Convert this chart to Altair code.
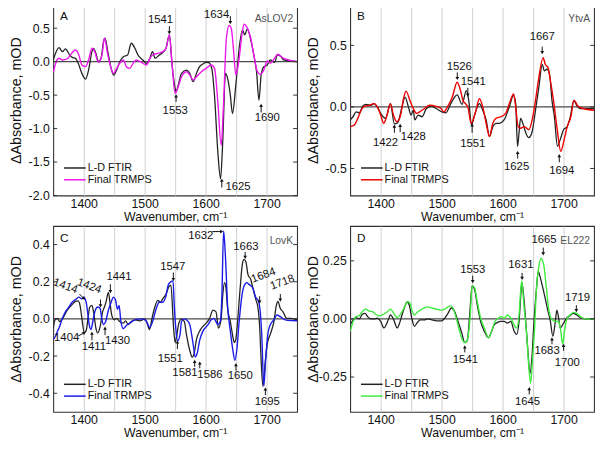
import altair as alt
import pandas as pd

FONT = "Liberation Sans, Arial, sans-serif"
SERIES = ["L-D FTIR", "Final TRMPS"]
X_DOMAIN = [1350, 1750]
X_GRID = [1400, 1450, 1500, 1550, 1600, 1650, 1700]

# ---------------- Panel A (AsLOV2) ----------------
A_ftir = [(1350, 0.025), (1359.5, 0.21), (1365, 0.15), (1370, 0.19), (1377, 0.10), (1382, 0.06), (1386.5, 0.05),
          (1391, -0.025), (1397, -0.175), (1403, -0.26), (1408, -0.125), (1413.5, 0.15), (1416, 0.20), (1420, 0.125),
          (1424, 0.0), (1428.5, 0.05), (1432.5, 0.30), (1435, 0.35), (1439.5, 0.15), (1445, -0.10), (1449, -0.20),
          (1454, -0.125), (1459, 0.0), (1465, 0.075), (1472, 0.10), (1478, 0.275), (1484, 0.20), (1489, 0.10),
          (1497, 0.025), (1503, -0.025), (1508, 0.04), (1513, 0.15), (1517, 0.05), (1524, 0.10), (1530, 0.14),
          (1535, 0.20), (1540.5, 0.40), (1545, -0.05), (1549, -0.35), (1551.5, -0.45), (1555, -0.35), (1560.5, -0.175),
          (1568.5, -0.125), (1574, -0.175), (1579.5, -0.30), (1585, -0.175), (1590, -0.075), (1595.5, -0.035),
          (1601, -0.01), (1605, -0.015), (1610, -0.10), (1614.5, -0.50), (1620, -1.35), (1624.5, -1.75), (1628, -1.20),
          (1632.5, -0.175), (1636, -0.25), (1640.5, -0.50), (1644, -0.775), (1649.5, -0.35), (1655, 0.20),
          (1660.5, 0.475), (1664, 0.40), (1668.5, 0.49), (1674, 0.325), (1679, 0.10), (1683.5, -0.15), (1687.5, -0.575),
          (1691, -0.20), (1695.5, -0.075), (1701, -0.05), (1706, 0.025), (1713, -0.01), (1718, 0.10), (1723.5, 0.075),
          (1728, 0.025), (1739, 0.01), (1750, 0.0)]
A_trmps = [(1350, -0.16), (1355, 0.0), (1359.5, 0.05), (1365, 0.025), (1373, 0.04), (1378, 0.10), (1386.5, 0.175),
           (1392, 0.10), (1397, -0.05), (1403, -0.075), (1408, 0.025), (1413.5, 0.20), (1418, 0.15), (1424, -0.01),
           (1430, 0.10), (1434, 0.35), (1439.5, 0.10), (1445, -0.10), (1449, -0.175), (1454, -0.10), (1459, -0.025),
           (1465, 0.025), (1470, -0.075), (1475.5, -0.10), (1481, -0.025), (1486, 0.025), (1494.5, -0.01),
           (1503, -0.05), (1508, 0.04), (1513, 0.10), (1521.5, 0.125), (1530, 0.15), (1535, 0.20), (1540.5, 0.40),
           (1545, -0.05), (1550, -0.475), (1555, -0.375), (1560.5, -0.225), (1568.5, -0.15), (1574, -0.20),
           (1579.5, -0.275), (1585, -0.225), (1593, -0.15), (1601, -0.10), (1609, -0.05), (1614.5, -0.10),
           (1620, -0.60), (1625.5, -1.25), (1629.5, -0.60), (1634, 0.35), (1638.5, 0.54), (1642, 0.50), (1646, 0.15),
           (1649.5, -0.20), (1655, 0.05), (1659.5, 0.40), (1663, 0.56), (1668.5, 0.50), (1674, 0.35), (1679, 0.10),
           (1685, -0.15), (1690, -0.19), (1695.5, -0.125), (1701, 0.01), (1706, -0.025), (1713, 0.05), (1718, 0.11),
           (1728, 0.05), (1739, 0.02), (1750, 0.0)]
A_yticks = [-2.0, -1.5, -1.0, -0.5, 0.0, 0.5]
# label, label x, label y, label angle, tail x, tail y, tip x, tip y, head angle
A_ann = [("1541", 1526, 0.62, 0, 1540.5, 0.53, 1540.5, 0.44, 180),
         ("1553", 1550, -0.74, 0, 1551.5, -0.60, 1551.5, -0.52, 0),
         ("1634", 1618, 0.69, 0, 1640.5, 0.68, 1640.5, 0.59, 180),
         ("1625", 1653, -1.87, 0, 1626.5, -1.88, 1626.5, -1.78, 0),
         ("1690", 1701, -0.85, 0, 1691, -0.76, 1691, -0.66, 0)]

# ---------------- Panel B (YtvA) ----------------
B_ftir = [(1350, -0.106), (1354.5, -0.08), (1360, -0.04), (1365, -0.048), (1370.5, 0.005), (1376, 0.02), (1384, 0.013),
          (1389, 0.027), (1394.5, 0.0), (1400, -0.053), (1408, -0.093), (1416, 0.027), (1422.5, -0.138),
          (1428, -0.128), (1435, 0.0), (1440, 0.08), (1445.5, 0.0), (1450, -0.066), (1453.5, -0.027), (1456, -0.106),
          (1461.5, -0.066), (1468, -0.08), (1475, -0.013), (1483, 0.005), (1491, -0.013), (1500.5, -0.04),
          (1507, -0.048), (1515, 0.027), (1525.5, 0.098), (1533.5, 0.021), (1540.5, 0.133), (1544.5, 0.053),
          (1549, -0.146), (1554, -0.066), (1562, 0.027), (1567.5, -0.027), (1573, -0.106), (1578.5, -0.24),
          (1584, -0.16), (1589, -0.133), (1594.5, -0.133), (1602.5, -0.106), (1611, 0.0), (1618, 0.093),
          (1621.5, 0.027), (1624.5, -0.32), (1627, -0.21), (1629.5, -0.093), (1634, -0.146), (1638, -0.21),
          (1643, -0.25), (1648.5, -0.2), (1654, -0.027), (1659.5, 0.16), (1665, 0.346), (1668.5, 0.293), (1673, 0.306),
          (1677, 0.266), (1681, 0.053), (1685, -0.08), (1690, -0.32), (1694.5, -0.266), (1700, -0.186), (1706, -0.16),
          (1710.5, -0.093), (1717, 0.053), (1721.5, 0.013), (1727, -0.013), (1735, -0.013), (1750, -0.013)]
B_trmps = [(1350, -0.16), (1357, -0.146), (1362.5, -0.093), (1368, -0.027), (1373, 0.005), (1381, 0.013), (1389, 0.027),
           (1394.5, 0.0), (1400, -0.066), (1405, -0.133), (1410.5, -0.066), (1416, 0.027), (1421, -0.066),
           (1426.5, -0.12), (1432, -0.08), (1437.5, 0.066), (1441.5, 0.128), (1448, 0.053), (1453.5, -0.013),
           (1459, -0.053), (1464, -0.04), (1472, -0.013), (1480, 0.013), (1491, 0.005), (1499, -0.013), (1504, -0.04),
           (1509.5, 0.0), (1517.5, 0.08), (1525.5, 0.2), (1531, 0.133), (1535, 0.053), (1539, 0.027), (1543, 0.0),
           (1548.5, -0.133), (1555, -0.053), (1562, 0.066), (1567.5, 0.0), (1573, -0.133), (1578.5, -0.24),
           (1584, -0.133), (1589, -0.093), (1597, -0.08), (1605, -0.053), (1612, 0.04), (1618, 0.106), (1621.5, 0.0),
           (1625.5, -0.16), (1629.5, -0.173), (1636, -0.16), (1643, -0.186), (1648.5, -0.106), (1654, 0.053),
           (1659.5, 0.24), (1666.5, 0.4), (1670, 0.346), (1674.5, 0.32), (1678, 0.226), (1683.5, 0.053), (1689, -0.16),
           (1695.5, -0.36), (1701, -0.266), (1706, -0.16), (1712, -0.08), (1717, 0.053), (1724, 0.005),
           (1732, -0.013), (1750, -0.027)]
B_yticks = [-0.5, 0.0, 0.5]
B_ann = [("1526", 1529, 0.32, 0, 1525.7, 0.28, 1525.7, 0.235, 180),
         ("1541", 1552, 0.20, 0, 1543, 0.155, 1543, 0.10, 180),
         ("1422", 1408, -0.29, 0, 1422.5, -0.21, 1422.5, -0.16, 0),
         ("1428", 1453.5, -0.245, 0, 1432, -0.205, 1432, -0.155, 0),
         ("1551", 1551, -0.30, 0, 1550, -0.21, 1550, -0.15, 0),
         ("1625", 1623, -0.49, 0, 1624.7, -0.42, 1624.7, -0.375, 0),
         ("1667", 1665, 0.565, 0, 1665, 0.49, 1665, 0.445, 180),
         ("1694", 1697, -0.52, 0, 1693, -0.45, 1693, -0.40, 0)]

# ---------------- Panel C (LovK) ----------------
C_ftir = [(1350, -0.049), (1353, -0.005), (1357, 0.003), (1360.5, -0.014), (1365, 0.0), (1373, 0.047), (1381, 0.077),
          (1386.5, 0.094), (1391, 0.097), (1394.5, 0.064), (1397, 0.003), (1401, -0.075), (1404.5, -0.057),
          (1407, 0.003), (1410, 0.064), (1413.5, 0.073), (1416.5, 0.03), (1420, -0.049), (1423, -0.075),
          (1427, -0.04), (1431, 0.038), (1434, 0.064), (1436.5, 0.09), (1440.5, 0.143), (1443, 0.09), (1446, 0.02),
          (1450, -0.005), (1454, 0.003), (1459, -0.014), (1465, -0.023), (1468.5, -0.01), (1473, -0.031),
          (1478, -0.014), (1485, -0.005), (1492, -0.01), (1500, 0.0), (1504, -0.023), (1508, -0.057), (1512, 0.003),
          (1516, 0.056), (1521.5, 0.1), (1526, 0.09), (1529.5, 0.108), (1535, 0.134), (1540.5, 0.177), (1543, 0.18),
          (1547.5, -0.05), (1550, -0.127), (1552.5, -0.092), (1556, -0.023), (1560.5, 0.0), (1565, -0.014),
          (1568.5, -0.083), (1574, -0.17), (1578, -0.205), (1581, -0.188), (1585, -0.11), (1590, -0.066),
          (1595.5, -0.04), (1601, -0.023), (1606.5, 0.003), (1612, 0.047), (1617, 0.038), (1621, -0.049),
          (1625.5, 0.003), (1628, 0.125), (1631, 0.195), (1633.5, 0.16), (1636, 0.056), (1640.5, -0.014),
          (1644, -0.083), (1647, -0.127), (1649.5, -0.11), (1652, -0.031), (1656.5, 0.16), (1660.5, 0.3), (1663, 0.32),
          (1666, 0.308), (1669.5, 0.238), (1674, 0.212), (1678, 0.16), (1682, 0.108), (1686, 0.056), (1689, -0.066),
          (1691, -0.223), (1694, -0.362), (1698, -0.223), (1701, -0.136), (1706, -0.083), (1712, -0.014),
          (1716, 0.073), (1718.5, 0.094), (1722.5, 0.056), (1727, 0.038), (1733, 0.003), (1739, 0.003),
          (1750, -0.005)]
C_trmps = [(1350, -0.11), (1354, -0.092), (1357, -0.066), (1359.5, -0.049), (1365, 0.003), (1370, 0.038),
           (1375.5, 0.064), (1381, 0.09), (1386.5, 0.104), (1392, 0.117), (1397, 0.108), (1400, 0.117), (1404, 0.09),
           (1407, 0.021), (1409, -0.031), (1412, -0.057), (1415, -0.014), (1419, 0.047), (1423, 0.064), (1427, 0.056),
           (1429.5, 0.003), (1432.5, -0.031), (1436, -0.014), (1440.5, 0.047), (1445, 0.09), (1448.5, 0.117),
           (1452, 0.104), (1455.5, 0.052), (1458, 0.073), (1461, -0.014), (1465, -0.052), (1470, -0.035),
           (1475.5, -0.023), (1484, -0.005), (1494.5, 0.0), (1502.5, -0.01), (1508, -0.045), (1513, -0.014),
           (1519, 0.056), (1524, 0.09), (1529.5, 0.09), (1535, 0.125), (1539, 0.186), (1543, 0.2), (1546.5, 0.205),
           (1548.5, 0.073), (1551, -0.049), (1554, -0.118), (1558, -0.083), (1560.5, -0.014), (1565, 0.0),
           (1568.5, -0.005), (1574, -0.031), (1579.5, -0.136), (1583, -0.205), (1586.5, -0.18), (1590, -0.118),
           (1595.5, -0.066), (1604, -0.031), (1609, -0.005), (1613.5, 0.003), (1617, -0.014), (1620, -0.031),
           (1624, -0.014), (1626.5, 0.108), (1629.5, 0.473), (1632.5, 0.334), (1636, 0.073), (1640.5, -0.066),
           (1644, -0.153), (1648, -0.223), (1651, -0.17), (1655, -0.014), (1659.5, 0.125), (1663, 0.177),
           (1667.5, 0.195), (1671, 0.186), (1677, 0.169), (1682, 0.117), (1686, 0.1), (1689, 0.056), (1692, -0.083),
           (1695.5, -0.362), (1698, -0.24), (1702, -0.083), (1706, -0.031), (1712, -0.005), (1717, 0.021),
           (1722.5, 0.012), (1730.5, -0.005), (1741.5, -0.009), (1750, -0.01)]
C_yticks = [-0.4, -0.2, 0.0, 0.2, 0.4]
C_ann = [("1547", 1546, 0.28, 0, 1547, 0.25, 1547, 0.215, 180),
         ("1441", 1458, 0.226, 0, 1443.7, 0.186, 1443.7, 0.15, 180),
         ("1414", 1370, 0.175, 20, 1393, 0.134, 1400, 0.111, 135),
         ("1424", 1409, 0.175, 20, 1427.5, 0.104, 1427.5, 0.073, 180),
         ("1404", 1372, -0.104, 0, 1391, -0.092, 1400, -0.076, 45),
         ("1411", 1416.7, -0.153, 0, 1413.5, -0.115, 1413.5, -0.08, 0),
         ("1430", 1455.5, -0.118, 0, 1435, -0.087, 1435, -0.052, 0),
         ("1551", 1542, -0.214, 0, 1553.7, -0.162, 1553.7, -0.127, 0),
         ("1581", 1566, -0.292, 0, 1582, -0.257, 1582, -0.231, 0),
         ("1586", 1607, -0.30, 0, 1590.4, -0.266, 1590.4, -0.24, 0),
         ("1632", 1592, 0.447, 0, 1611, 0.47, 1625.5, 0.47, 90),
         ("1663", 1666, 0.386, 0, 1664.8, 0.36, 1664.8, 0.334, 180),
         ("1684", 1695, 0.233, 340, 1688.6, 0.122, 1688.6, 0.094, 180),
         ("1718", 1726, 0.195, 340, 1722.5, 0.134, 1722.5, 0.104, 180),
         ("1650", 1656.7, -0.31, 0, 1649.7, -0.278, 1649.7, -0.249, 0),
         ("1695", 1701, -0.445, 0, 1698, -0.41, 1698, -0.38, 0)]

# ---------------- Panel D (EL222) ----------------
D_ftir = [(1350, -0.025), (1355, -0.004), (1359.5, 0.006), (1365, 0.0), (1370, 0.02), (1374.5, 0.024), (1378.5, 0.01),
          (1384, 0.0), (1389, 0.0), (1394.5, 0.003), (1400, -0.011), (1405.5, -0.039), (1409, -0.025),
          (1413.5, 0.003), (1416, 0.017), (1421.5, -0.004), (1427, -0.039), (1431, -0.018), (1435, 0.017),
          (1439.5, 0.052), (1443, 0.073), (1447, 0.059), (1451, 0.003), (1455.5, -0.032), (1459.5, -0.018),
          (1465, -0.004), (1472, -0.004), (1477, 0.0), (1484, -0.004), (1492, -0.008), (1500, -0.008), (1505, 0.003),
          (1510.5, 0.024), (1516, 0.047), (1521.5, 0.031), (1527, -0.011), (1533, -0.06), (1538, -0.102),
          (1542, -0.095), (1546, 0.017), (1550, 0.142), (1554, 0.128), (1558.5, 0.059), (1564, -0.011),
          (1570, -0.053), (1577, -0.081), (1581, -0.06), (1586.5, -0.025), (1592, -0.015), (1597, -0.011),
          (1602.5, -0.011), (1608, -0.018), (1613.5, -0.011), (1619, -0.053), (1623, -0.067), (1627, -0.011),
          (1629.5, 0.087), (1631.5, 0.156), (1634, 0.115), (1638, -0.011), (1641.5, -0.137), (1645, -0.235),
          (1648.5, -0.151), (1651.5, -0.011), (1655.5, 0.128), (1658.5, 0.205), (1662, 0.177), (1666.5, 0.128),
          (1670, 0.087), (1674, 0.038), (1678, -0.004), (1682.5, -0.074), (1686.5, -0.011), (1689, 0.038),
          (1692, 0.003), (1694.5, -0.039), (1700, -0.018), (1705, 0.003), (1710.5, 0.014), (1716, 0.024),
          (1721.5, 0.017), (1729.5, 0.003), (1737.5, 0.0), (1750, 0.0)]
D_trmps = [(1350, -0.053), (1355, -0.011), (1359.5, 0.01), (1365, 0.014), (1370, 0.031), (1375.5, 0.042),
           (1381, 0.034), (1386.5, 0.031), (1392, 0.02), (1397, 0.013), (1402.5, 0.017), (1407, 0.024), (1411, 0.031),
           (1416, 0.042), (1421.5, 0.024), (1427, 0.006), (1431, 0.014), (1435, 0.031), (1440.5, 0.059), (1444, 0.075),
           (1448.5, 0.066), (1452, 0.031), (1455.5, 0.017), (1459.5, 0.028), (1465, 0.038), (1470, 0.045),
           (1475.5, 0.052), (1484, 0.047), (1492, 0.042), (1500, 0.038), (1505, 0.042), (1510.5, 0.052),
           (1515, 0.056), (1519, 0.045), (1524, 0.003), (1529.5, -0.053), (1535, -0.095), (1539, -0.102),
           (1543, -0.081), (1547, 0.017), (1550, 0.142), (1554, 0.135), (1558.5, 0.073), (1564, 0.003),
           (1570, -0.039), (1577, -0.081), (1582, -0.053), (1587.5, -0.011), (1593, 0.003), (1597, 0.01),
           (1602.5, 0.003), (1608, 0.017), (1613.5, 0.003), (1619, -0.025), (1623, -0.039), (1627, 0.017),
           (1629.5, 0.115), (1631.5, 0.163), (1635, 0.059), (1639.5, -0.067), (1643, -0.207), (1646, -0.277),
           (1649, -0.179), (1652.5, -0.039), (1655.5, 0.128), (1659.5, 0.226), (1663, 0.261), (1667.5, 0.233),
           (1672, 0.128), (1675.5, 0.045), (1681, -0.004), (1686.5, -0.011), (1692, -0.011), (1695.5, -0.053),
           (1698.5, -0.109), (1701.5, -0.053), (1705, -0.004), (1710.5, 0.017), (1717, 0.028), (1721.5, 0.024),
           (1729.5, 0.006), (1737.5, 0.0), (1750, -0.001)]
D_yticks = [-0.25, 0.0, 0.25]
D_ann = [("1553", 1551, 0.212, 0, 1551, 0.186, 1551, 0.163, 180),
         ("1541", 1539, -0.179, 0, 1538, -0.144, 1538, -0.123, 0),
         ("1631", 1630, 0.233, 0, 1632, 0.198, 1632, 0.177, 180),
         ("1665", 1668, 0.338, 0, 1666.7, 0.307, 1666.7, 0.282, 180),
         ("1719", 1723, 0.089, 0, 1721, 0.059, 1721, 0.038, 180),
         ("1683", 1673, -0.14, 0, 1681, -0.109, 1681, -0.088, 0),
         ("1700", 1706, -0.19, 0, 1700, -0.137, 1700, -0.116, 0),
         ("1645", 1641, -0.356, 0, 1643.7, -0.325, 1643.7, -0.302, 0)]

W = 248


def panel(letter, protein, ftir, trmps, color, ydom, yticks, yfmt, ann, H):
    xs = alt.Scale(domain=X_DOMAIN, nice=False, zero=False)
    ys = alt.Scale(domain=ydom, nice=False, zero=False)
    xaxis = alt.Axis(values=X_GRID, format="d", title="Wavenumber, cm\u207b\u00b9",
                     titleFont=FONT, titleFontSize=12.5, titleFontWeight="normal", titleColor="#111",
                     labelFont=FONT, labelFontSize=12.5, labelColor="#111", labelPadding=2,
                     labelExpr="datum.value % 100 === 0 ? datum.label : ''", labelOverlap=False,
                     ticks=False, tickSize=0, domain=False, grid=True, gridColor="#c4c4c4", gridWidth=0.8,
                     titlePadding=0, minExtent=15, maxExtent=15)
    yaxis = alt.Axis(values=yticks, format=yfmt, labelExpr="replace(datum.label, '\u2212', '-')",
                     title="\u0394Absorbance, mOD", titleFont=FONT, titleFontSize=14.5, titleFontWeight="normal",
                     titleColor="#111", labelFont=FONT, labelFontSize=12.5, labelColor="#111", labelPadding=4,
                     labelOverlap=False, ticks=False, tickSize=0, domain=False, grid=False,
                     titlePadding=4, minExtent=26, maxExtent=26)

    def X(f):
        return alt.X(f, type="quantitative", scale=xs, axis=xaxis)

    def Y(f):
        return alt.Y(f, type="quantitative", scale=ys, axis=yaxis)

    df_f = pd.DataFrame(ftir, columns=["wn", "val"])
    df_t = pd.DataFrame(trmps, columns=["wn", "val"])
    df_a = pd.DataFrame(ann, columns=["lab", "lx", "ly", "la", "wn", "val", "wn2", "val2", "ha"])

    zero = alt.Chart(pd.DataFrame({"val": [0.0]})).mark_rule(color="#4a4a4a", strokeWidth=1.2).encode(y=Y("val"))
    l_f = alt.Chart(df_f).mark_line(interpolate="monotone", color="#222222", strokeWidth=1.3, clip=True).encode(
        x=X("wn"), y=Y("val"))
    l_t = alt.Chart(df_t).mark_line(interpolate="monotone", color=color, strokeWidth=1.4, clip=True).encode(
        x=X("wn"), y=Y("val"))
    tdf = pd.DataFrame({"val": yticks})
    tick_l = alt.Chart(tdf).mark_rule(color="#333").encode(y=Y("val"), x=alt.value(0), x2=alt.value(4))
    tick_r = alt.Chart(tdf).mark_rule(color="#333").encode(y=Y("val"), x=alt.value(W - 4), x2=alt.value(W))
    arr = alt.Chart(df_a).mark_rule(color="#111", strokeWidth=1).encode(
        x=X("wn"), y=Y("val"), x2="wn2", y2="val2")
    heads = alt.Chart(df_a).mark_point(shape="triangle", filled=True, size=14, color="#111", opacity=1).encode(
        x=X("wn2"), y=Y("val2"), angle=alt.Angle("ha:Q", scale=None))
    labels = alt.Chart(df_a).mark_text(font=FONT, fontSize=11.5, color="#111", baseline="middle",
                                       align="center").encode(
        x=X("lx"), y=Y("ly"), text="lab:N", angle=alt.Angle("la:Q", scale=None))
    one = pd.DataFrame({"t": [letter], "p": [protein], "s0": [SERIES[0]], "s1": [SERIES[1]]})
    let = alt.Chart(one).mark_text(
        font=FONT, fontSize=12, color="#111", align="left", baseline="middle").encode(
        text="t:N", x=alt.value(7), y=alt.value(12))
    prot = alt.Chart(one).mark_text(
        font=FONT, fontSize=10.5, color="#555", align="right", baseline="middle").encode(
        text="p:N", x=alt.value(W - 4), y=alt.value(15))
    leg = []
    for i, (fld, col) in enumerate([("s0", "#222222"), ("s1", color)]):
        yy = H - 28 + 12 * i
        leg.append(alt.Chart(one).mark_rule(strokeWidth=1.5, color=col).encode(
            x=alt.value(11), x2=alt.value(33), y=alt.value(yy)))
        leg.append(alt.Chart(one).mark_text(font=FONT, fontSize=11, color="#111", align="left",
                                            baseline="middle").encode(
            x=alt.value(35), y=alt.value(yy), text=f"{fld}:N"))
    return alt.layer(zero, l_f, l_t, tick_l, tick_r, arr, heads, labels, let, prot, *leg).properties(
        width=W, height=H)


pA = panel("A", "AsLOV2", A_ftir, A_trmps, "#ee16ee", [-2.0, 0.85], A_yticks, ".1f", A_ann, 194)
pB = panel("B", "YtvA", B_ftir, B_trmps, "#ee0000", [-0.72, 0.83], B_yticks, ".1f", B_ann, 194)
pC = panel("C", "LovK", C_ftir, C_trmps, "#1a1ae6", [-0.5, 0.5], C_yticks, ".1f", C_ann, 189)
pD = panel("D", "EL222", D_ftir, D_trmps, "#3cec3c", [-0.4, 0.4], D_yticks, ".2f", D_ann, 189)

top = alt.hconcat(pA, pB, spacing=6).resolve_scale(x="independent", y="independent")
bottom = alt.hconcat(pC, pD, spacing=6).resolve_scale(x="independent", y="independent")
chart = alt.vconcat(top, bottom, spacing=1).resolve_scale(x="independent", y="independent").properties(
    padding={"left": 0, "top": -8, "right": 0, "bottom": 0}
).configure_view(stroke="#333", strokeWidth=1.1)

chart.save("out.html", embed_options={"renderer": "svg", "actions": False})
